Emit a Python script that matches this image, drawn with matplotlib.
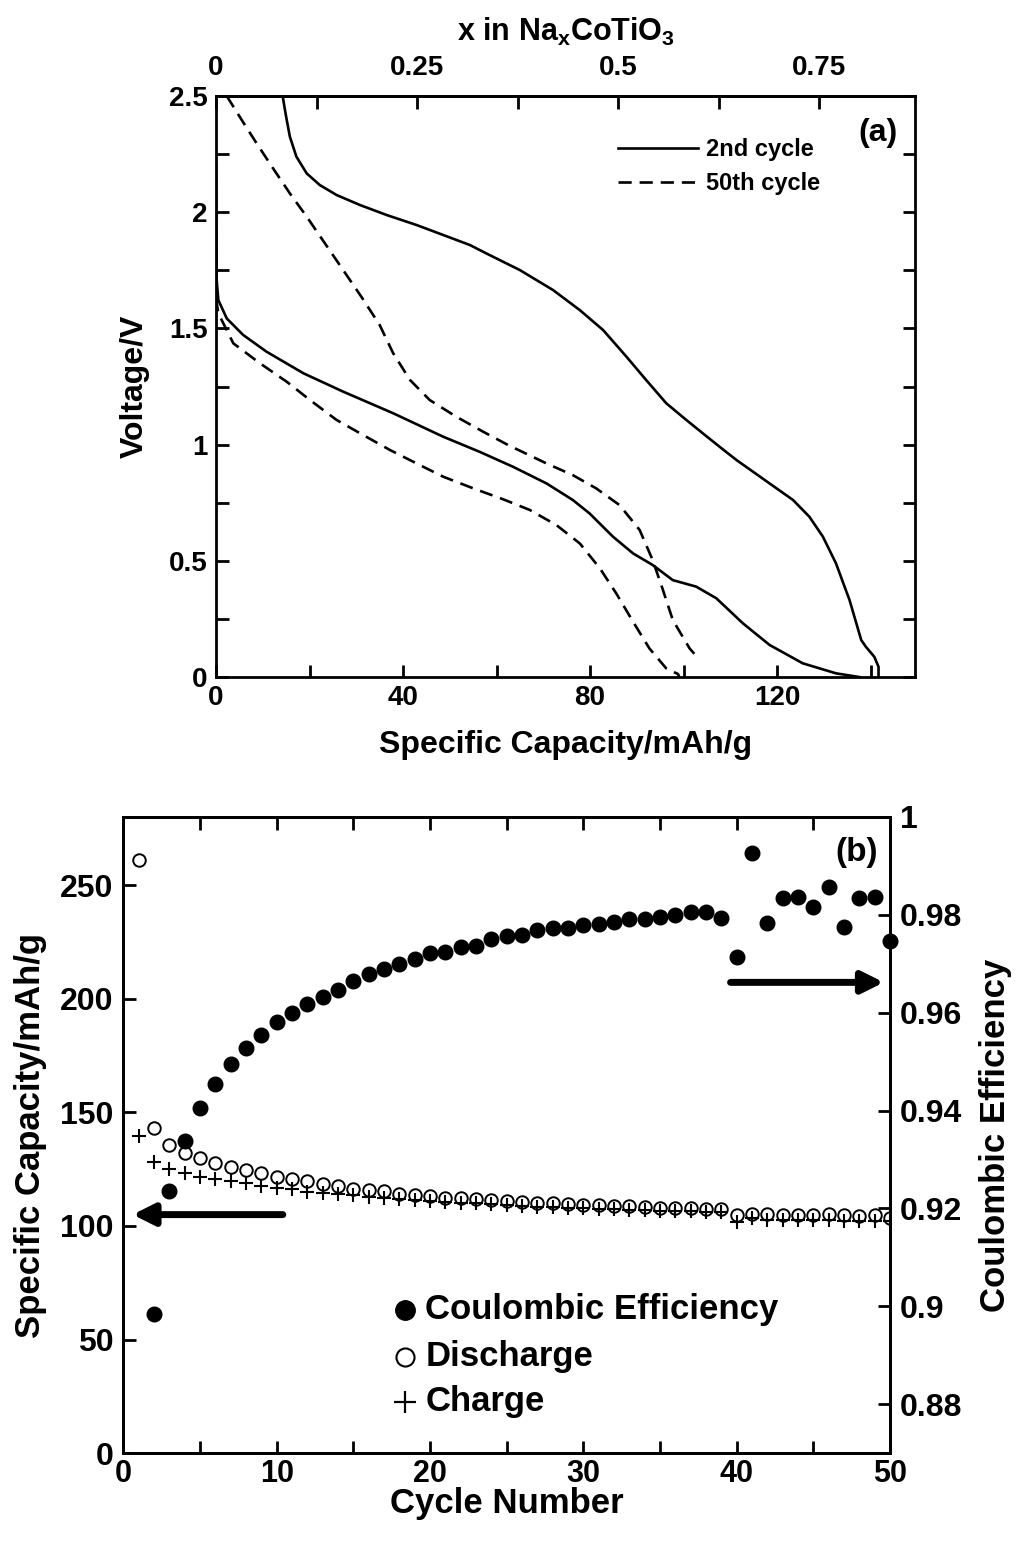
import numpy as np
import matplotlib
matplotlib.use("Agg")
import matplotlib.pyplot as plt
from matplotlib.ticker import MultipleLocator

plt.rcParams["font.family"] = ["Liberation Sans", "DejaVu Sans"]
plt.rcParams["font.weight"] = "bold"
plt.rcParams["mathtext.default"] = "regular"

# ---- panel (a): voltage profiles (capacity mAh/g, voltage V) ----
cap_2nd_dis = [0, 0.05, 0.14, 0.5, 2.3, 5.8, 10.8, 18.7, 27.2, 37.9, 48.6, 56.4, 63.5,
               70.7, 76.3, 79.9, 84.9, 89.2, 93.4, 97.7, 102.7, 107.0, 112.7, 118.4,
               125.5, 132.6, 137.6]
v_2nd_dis = [2.2, 1.95, 1.708, 1.622, 1.543, 1.472, 1.400, 1.307, 1.228, 1.135, 1.034,
             0.969, 0.905, 0.833, 0.762, 0.704, 0.604, 0.532, 0.482, 0.417, 0.389, 0.339,
             0.231, 0.138, 0.059, 0.016, 0.0]
cap_2nd_chg = [14.25, 15.0, 15.8, 17.2, 19.4, 22.2, 25.8, 30.8, 36.5, 42.9, 48.6, 54.3,
               57.8, 65.0, 72.1, 77.8, 82.8, 87.8, 92.0, 96.3, 100.6, 104.1, 107.7, 111.3,
               118.4, 123.4, 126.9, 129.8, 132.6, 135.5, 138.0, 139.0, 140.8, 141.7, 141.7]
v_2nd_chg = [2.5, 2.411, 2.325, 2.239, 2.167, 2.117, 2.074, 2.031, 1.988, 1.945, 1.902,
             1.859, 1.823, 1.751, 1.665, 1.579, 1.493, 1.378, 1.278, 1.178, 1.106, 1.049,
             0.991, 0.934, 0.833, 0.762, 0.690, 0.604, 0.489, 0.331, 0.159, 0.130, 0.087,
             0.044, 0.0]
cap_50th_dis = [0, 0.5, 3.7, 9.4, 15.1, 20.1, 25.8, 31.5, 37.2, 42.9, 48.6, 55.0, 61.4,
                67.1, 72.8, 77.8, 82.1, 85.6, 89.2, 92.7, 96.3, 98.8, 99.1]
v_50th_dis = [1.63, 1.565, 1.436, 1.350, 1.271, 1.192, 1.106, 1.041, 0.977, 0.919, 0.862,
              0.812, 0.765, 0.719, 0.654, 0.575, 0.468, 0.360, 0.238, 0.123, 0.037, 0.013,
              0.0]
cap_50th_chg = [2.3, 5.5, 8.7, 12.2, 15.8, 19.4, 23.3, 27.2, 31.1, 35.0, 37.9, 41.5, 45.7,
                51.4, 57.1, 62.5, 70.7, 76.3, 81.3, 86.3, 90.6, 93.4, 95.6, 97.7, 101.3,
                102.3]
v_50th_chg = [2.5, 2.397, 2.296, 2.189, 2.081, 1.981, 1.866, 1.751, 1.636, 1.515, 1.393,
              1.278, 1.192, 1.120, 1.056, 0.998, 0.919, 0.869, 0.812, 0.740, 0.633, 0.503,
              0.374, 0.245, 0.123, 0.1]
cap_per_x = 172.0

# ---- panel (b): cycling ----
cycles = np.arange(1, 51)
discharge = [261.0, 142.9, 135.6, 132.3, 129.7, 127.9, 126.0, 124.7, 123.5, 121.7,
             120.6, 119.8, 118.5, 117.6, 116.1, 115.7, 115.4, 114.2, 113.6, 113.2,
             112.5, 112.2, 111.7, 111.4, 111.0, 110.6, 110.3, 110.0, 109.7, 109.4,
             109.1, 108.8, 108.6, 108.3, 108.1, 107.9, 107.7, 107.5, 107.3, 105.0,
             105.3, 105.2, 105.0, 104.9, 105.0, 105.3, 104.8, 104.6, 104.7, 103.5]
charge = [139.7, 128.2, 125.0, 123.5, 121.7, 120.6, 119.8, 119.1, 117.6, 116.9,
          116.1, 115.0, 114.7, 113.9, 113.5, 112.9, 112.5, 112.0, 111.4, 111.0,
          110.7, 110.3, 110.0, 109.5, 109.1, 108.7, 108.5, 108.2, 108.0, 107.8,
          107.6, 107.4, 107.2, 107.0, 106.8, 106.6, 106.4, 106.3, 106.1, 101.8,
          103.5, 102.8, 102.7, 102.6, 102.5, 102.5, 102.3, 102.2, 102.2, 102.0]
ce_cycles = np.arange(2, 51)
ce = [0.8985, 0.9236, 0.9337, 0.9405, 0.9454, 0.9495, 0.9527, 0.9555, 0.9581, 0.9600,
      0.9618, 0.9633, 0.9646, 0.9665, 0.9679, 0.9690, 0.9699, 0.9709, 0.9723, 0.9725,
      0.9734, 0.9736, 0.9750, 0.9756, 0.9759, 0.9769, 0.9773, 0.9773, 0.9779, 0.9782,
      0.9785, 0.9792, 0.9792, 0.9796, 0.9799, 0.9805, 0.9806, 0.9793, 0.9713, 0.9927,
      0.9783, 0.9834, 0.9836, 0.9815, 0.9857, 0.9776, 0.9834, 0.9836, 0.9747]

fig = plt.figure(figsize=(10.16, 15.44), dpi=100)
SPW = 2.0
LW = 1.9
DASH = (5, 3)

# ---------------- panel (a) ----------------
ax1 = fig.add_axes([0.2126, 0.5615, 0.688, 0.3763])
ax1.plot(cap_2nd_dis, v_2nd_dis, "k-", lw=LW, label="2nd cycle")
ax1.plot(cap_2nd_chg, v_2nd_chg, "k-", lw=LW)
ax1.plot(cap_50th_dis, v_50th_dis, "k--", lw=LW, dashes=DASH, label="50th cycle")
ax1.plot(cap_50th_chg, v_50th_chg, "k--", lw=LW, dashes=DASH)
ax1.set_xlim(0, 149.5)
ax1.set_ylim(0, 2.5)
ax1.xaxis.set_major_locator(MultipleLocator(40))
ax1.xaxis.set_minor_locator(MultipleLocator(20))
ax1.yaxis.set_minor_locator(MultipleLocator(0.25))
ax1.set_yticks([0, 0.5, 1, 1.5, 2, 2.5], ["0", "0.5", "1", "1.5", "2", "2.5"])
ax1.tick_params(which="both", direction="in", width=SPW, length=9, right=True,
                top=False, labelsize=20, pad=6)
for s in ax1.spines.values():
    s.set_linewidth(SPW)
ax1.set_xlabel("Specific Capacity/mAh/g", fontsize=23, fontweight="bold")
ax1.xaxis.set_label_coords(0.5, -0.117)
ax1.xaxis.label.set_va("center")
ax1.set_ylabel("Voltage/V", fontsize=23, fontweight="bold")
ax1.yaxis.set_label_coords(-0.116, 0.5)
ax1.yaxis.label.set_va("center")

sec = ax1.secondary_xaxis("top", functions=(lambda c: c / cap_per_x, lambda x: x * cap_per_x))
sec.set_xticks([0, 0.25, 0.5, 0.75], ["0", "0.25", "0.5", "0.75"])
sec.xaxis.set_minor_locator(MultipleLocator(0.125))
sec.tick_params(which="both", direction="in", width=SPW, length=9, pad=11, labelsize=20)
sec.spines["top"].set_linewidth(SPW)
sec.set_xlabel(r"x in Na$_\mathregular{x}$CoTiO$_\mathregular{3}$", fontsize=22,
               fontweight="bold", labelpad=10)

ax1.legend(loc="upper left", bbox_to_anchor=(0.545, 0.964), frameon=False,
           handlelength=3.4, handletextpad=0.3, labelspacing=0.45,
           prop=dict(size=17, weight="bold"))
ax1.text(0.947, 0.936, "(a)", transform=ax1.transAxes, ha="center", va="center",
         fontsize=23, fontweight="bold")

# ---------------- panel (b) ----------------
ax2 = fig.add_axes([0.1214, 0.0588, 0.7546, 0.4121])
ax3 = ax2.twinx()
ax2.plot(cycles, discharge, "o", ms=9, mfc="white", mec="k", mew=1.4, ls="none", zorder=3)
ax2.plot(cycles, charge, "+", ms=10, mec="k", mew=1.5, ls="none", zorder=3)
ax3.plot(ce_cycles, ce, "o", ms=10.5, mfc="k", mec="k", ls="none", clip_on=False)
ax2.set_xlim(0, 50)
ax2.set_ylim(0, 280)
ax3.set_ylim(0.87, 1.0)
ax2.xaxis.set_major_locator(MultipleLocator(10))
ax2.xaxis.set_minor_locator(MultipleLocator(5))
ax2.yaxis.set_major_locator(MultipleLocator(50))
ax3.set_yticks([0.88, 0.9, 0.92, 0.94, 0.96, 0.98, 1.0],
               ["0.88", "0.9", "0.92", "0.94", "0.96", "0.98", "1"])
ax2.tick_params(which="both", direction="in", width=SPW, length=9, top=True,
                labelsize=23, pad=7)
ax2.tick_params(axis="x", labelsize=22, pad=4)
ax3.tick_params(which="both", direction="in", width=SPW, length=9, labelsize=23, pad=7)
for s in list(ax2.spines.values()) + list(ax3.spines.values()):
    s.set_linewidth(SPW)
ax2.set_xlabel("Cycle Number", fontsize=25, fontweight="bold")
ax2.xaxis.set_label_coords(0.5, -0.079)
ax2.xaxis.label.set_va("center")
ax2.set_ylabel("Specific Capacity/mAh/g", fontsize=25, fontweight="bold")
ax2.yaxis.set_label_coords(-0.1217, 0.5)
ax2.yaxis.label.set_va("center")
ax3.set_ylabel("Coulombic Efficiency", fontsize=25, fontweight="bold")
ax3.yaxis.set_label_coords(1.137, 0.5)
ax3.yaxis.label.set_va("center")

ax2.annotate("", xy=(0.6, 105), xytext=(10.4, 105),
             arrowprops=dict(arrowstyle="-|>", lw=5, color="k", mutation_scale=32,
                             capstyle="round", shrinkA=0, shrinkB=0))
ax3.annotate("", xy=(49.6, 0.9662), xytext=(39.6, 0.9662),
             arrowprops=dict(arrowstyle="-|>", lw=5, color="k", mutation_scale=32,
                             capstyle="round", shrinkA=0, shrinkB=0))
ax2.text(0.957, 0.944, "(b)", transform=ax2.transAxes, ha="center", va="center",
         fontsize=24, fontweight="bold")

# legend made from proxy markers
lx, ly = 18.4, [63.2, 42.5, 22.6]
ax2.plot([lx], [ly[0]], "o", ms=14, mfc="k", mec="k")
ax2.plot([lx], [ly[1]], "o", ms=13, mfc="white", mec="k", mew=1.5)
ax2.plot([lx], [ly[2]], "+", ms=16, mec="k", mew=1.6)
for y, t in zip(ly, ["Coulombic Efficiency", "Discharge", "Charge"]):
    ax2.text(lx + 1.3, y, t, fontsize=25, fontweight="bold", va="center")

fig.savefig("out.png", dpi=100)
